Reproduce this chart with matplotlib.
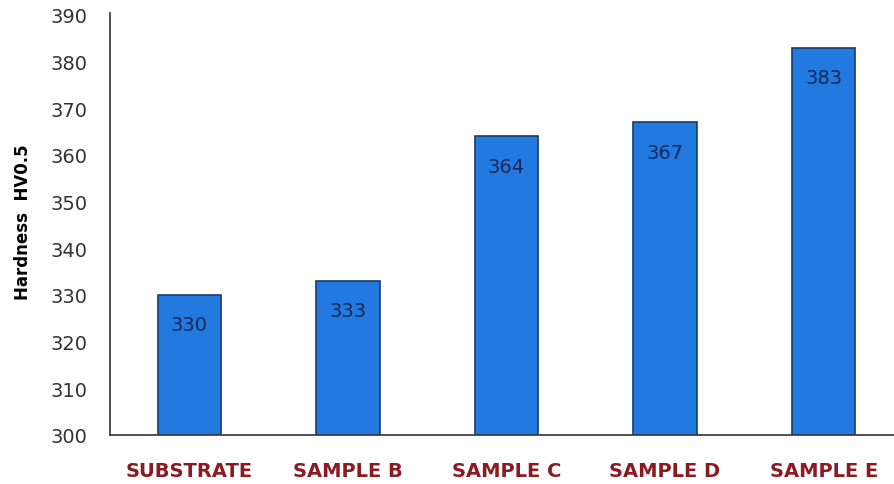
import matplotlib
matplotlib.use("Agg")
import matplotlib.pyplot as plt

categories = ["SUBSTRATE", "SAMPLE B", "SAMPLE C", "SAMPLE D", "SAMPLE E"]
hardness = [330, 333, 364, 367, 383]
y_ticks = [300, 310, 320, 330, 340, 350, 360, 370, 380, 390]

fig = plt.figure(figsize=(8.95, 4.85), dpi=100)
ax = fig.add_axes([110 / 895, 49 / 485, 1 - 110 / 895, (436 - 14) / 485])

x = list(range(len(categories)))
bars = ax.bar(x, hardness, width=0.4, color="#2279E0", edgecolor="#1B3A6B", linewidth=1.2, zorder=2)

for xi, v in zip(x, hardness):
    ax.annotate(str(v), xy=(xi, v), xytext=(0, -30), textcoords="offset pixels",
                ha="center", va="center", fontsize=14, color="#17285A", zorder=3)

ax.set_ylim(300, 390.4)
ax.set_xlim(-0.5, 4.45)
ax.set_yticks(y_ticks)
ax.set_yticklabels([str(t) for t in y_ticks], fontsize=14, color="#333333")
ax.set_xticks(x)
ax.set_xticklabels(categories, fontsize=14, fontweight="bold", color="#8B1A22")
ax.tick_params(axis="both", length=0)
ax.tick_params(axis="y", pad=16)
ax.tick_params(axis="x", pad=19)

ax.spines["top"].set_visible(False)
ax.spines["right"].set_visible(False)
ax.spines["left"].set_color("#333333")
ax.spines["bottom"].set_color("#333333")
ax.spines["left"].set_linewidth(1.2)
ax.spines["bottom"].set_linewidth(1.2)

ax.set_ylabel("Hardness  HV0.5", fontsize=12, fontweight="bold", color="black")
ax.yaxis.set_label_coords(-(110 - 32) / 785, (485 - 222 - 49) / 422)

fig.savefig("out.png", dpi=100)
